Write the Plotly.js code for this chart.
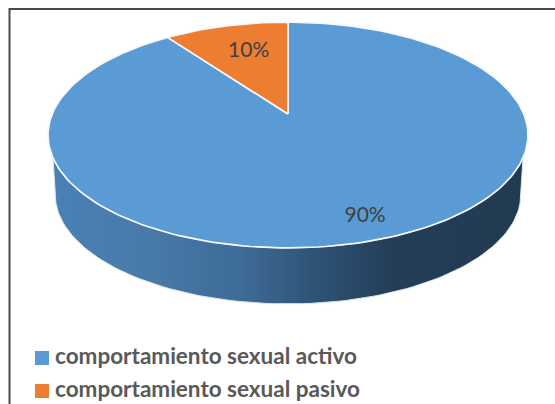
<!DOCTYPE html>
<html>
<head>
<meta charset="utf-8">
<script src="https://cdn.plot.ly/plotly-3.0.1.min.js"></script>
<style>html,body{margin:0;padding:0;background:#fff;overflow:hidden}#c{width:555px;height:404px}</style>
</head>
<body>
<div id="c"></div>
<script>
const categories = ["comportamiento sexual activo", "comportamiento sexual pasivo"];
const values = [90, 10];
const labels = ["90%", "10%"];
const colors = ["#5B9BD5", "#ED7D31"];

// projection of the tilted pie disc
const CX = 288, CY = 114, A = 235.8, B = 109, K = -0.186;
function proj(u, v, s, dy) {
  const d = 1 + K * v;
  return [CX + s * A * u / d, CY + dy + s * B * v / d];
}
function rim(a0, a1, s, dy) {
  const pts = [];
  const n = Math.max(2, Math.ceil(Math.abs(a1 - a0) / 1.5));
  for (let i = 0; i <= n; i++) {
    const a = (a0 + (a1 - a0) * i / n) * Math.PI / 180;
    pts.push(proj(Math.sin(a), -Math.cos(a), s, dy));
  }
  return pts;
}
const traces = [];

// side wall: front part of the rim and the lower rim
const upperRim = rim(112, 248, 1, 0);
const lowerRim = rim(255, 105, 0.97, 60);
const wall = upperRim.concat(lowerRim);
wall.push(wall[0]);
traces.push({
  x: wall.map(p => p[0]), y: wall.map(p => p[1]),
  mode: "lines", fill: "toself", showlegend: false, hoverinfo: "skip",
  line: {color: "#dbe6ef", width: 1},
  fillgradient: {type: "horizontal", colorscale: [
    [0, "#4A80B6"], [0.2, "#487AA9"], [0.4, "#3E6B97"], [0.55, "#2F5478"],
    [0.72, "#243E58"], [1, "#223A50"]]}
});

// top slices
let acc = 0;
const total = values.reduce((a, b) => a + b, 0);
values.forEach((val, i) => {
  const a0 = acc / total * 360, a1 = (acc + val) / total * 360;
  acc += val;
  const pts = [proj(0, 0, 1, 0)].concat(rim(a0, a1, 1, 0));
  pts.push(pts[0]);
  traces.push({
    x: pts.map(p => p[0]), y: pts.map(p => p[1]),
    mode: "lines", fill: "toself", fillcolor: colors[i],
    line: {color: "#F6F8FB", width: 1.7},
    showlegend: false, hoverinfo: "skip"
  });
});

// percentage labels
const labelR = [0.85, 0.665], labelA = [160.9, 343.7];
const lp = labelA.map((a, i) => proj(labelR[i] * Math.sin(a * Math.PI / 180), -labelR[i] * Math.cos(a * Math.PI / 180), 1, 0));
traces.push({
  x: lp.map(p => p[0]), y: lp.map(p => p[1]), text: labels,
  mode: "text", textposition: "middle center",
  textfont: {family: "Lato, 'Open Sans', sans-serif", size: 21, color: "#404040"},
  showlegend: false, hoverinfo: "skip"
});

// key entries
const keyX = 42, keyTextX = 55, keyY = [358, 391];
categories.forEach((name, i) => {
  traces.push({
    x: [keyX], y: [keyY[i]], mode: "markers",
    marker: {symbol: "square", size: 14, color: colors[i]},
    showlegend: false, hoverinfo: "skip"
  });
  traces.push({
    x: [keyTextX], y: [keyY[i]], text: [name], mode: "text",
    textposition: "middle right",
    textfont: {family: "Lato, 'Open Sans', sans-serif", size: 22.5, color: "#595959", weight: 700},
    showlegend: false, hoverinfo: "skip"
  });
});

const layout = {
  width: 555, height: 404,
  margin: {l: 0, r: 0, t: 0, b: 0},
  paper_bgcolor: "#fff", plot_bgcolor: "#fff",
  xaxis: {range: [0, 555], visible: false, fixedrange: true},
  yaxis: {range: [404, 0], visible: false, fixedrange: true},
  showlegend: false,
  shapes: [{
    type: "rect", xref: "paper", yref: "paper", layer: "above",
    x0: 9.5 / 555, x1: 1.05, y0: -0.02, y1: 1 - 9 / 404,
    line: {color: "#4a4a4a", width: 2}, fillcolor: "rgba(0,0,0,0)"
  }]
};
Plotly.newPlot("c", traces, layout, {displayModeBar: false, staticPlot: true});
</script>
</body>
</html>
